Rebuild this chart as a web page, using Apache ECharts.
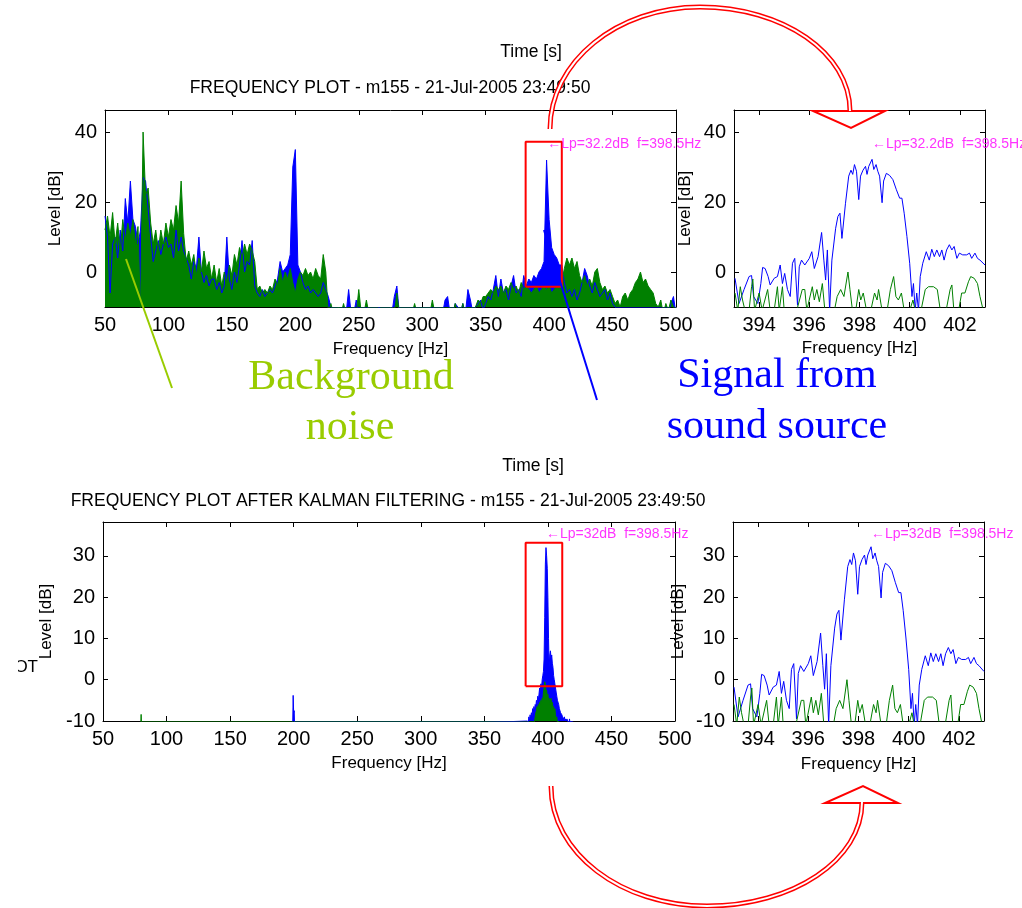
<!DOCTYPE html>
<html>
<head>
<meta charset="utf-8">
<title>Frequency plot before and after Kalman filtering</title>
<script src="https://cdn.jsdelivr.net/npm/echarts@6.0.0/dist/echarts.min.js"></script>
<style>
  html, body { margin: 0; padding: 0; background: #fff; }
  #chart { width: 1022px; height: 908px; }
</style>
</head>
<body>
<div id="chart"></div>
<script>
// overview spectra, one value every 2 Hz from 50 Hz to 500 Hz (level in dB)
const mainStart = 50;
const mainStep = 2;
const mainGreen = [
  12, 16, 10, 17, 8, 14, 6, 15, 9, 14,
  10, 15, 8, 13, -12, 40, 22, 24, 14, 8,
  12, 6, 12, 8, 14, 10, 15, 12, 19, 14,
  26, 11, 3, 6, 2, 5, -1, 4, 0, 6,
  1, 3, -2, 2, -3, 1, -4, 0, -3, 2,
  -1, 5, 2, 7, 4, 8, 5, 8, 6, 3,
  -5, -4, -6, -5, -6, -4, -5, -2, -4, 1,
  -3, 0, -2, 1, -3, -6, -2, 0, -1, 1,
  -1, 0, -2, 1, -1, -2, 5, 0, -12, -9,
  -12, -12, -10, -12, -9, -12, -12, -12, -12, -12,
  -5, -12, -12, -8, -12, -12, -12, -12, -12, -12,
  -12, -12, -12, -12, -12, -6, -12, -12, -12, -12,
  -12, -12, -9, -12, -12, -12, -12, -12, -12, -8,
  -12, -12, -12, -12, -12, -12, -12, -12, -9, -12,
  -12, -9, -12, -12, -12, -12, -10, -8, -9, -7,
  -7, -6, -5, -6, -4, -5, -4, -6, -4, -5,
  -3, -5, -4, -6, -3, -5, -4, -5, -6, -5,
  -4, -6, -5, -4, -5, -4, -6, -5, -4, -5,
  -3, 1, 4, 2, 4, 1, 3, -1, -3, -1,
  -4, -2, -4, 0, 1, -3, -5, -4, -6, -5,
  -7, -9, -8, -10, -7, -6, -8, -6, -5, -3,
  -2, 0, -3, -2, -4, -5, -6, -9, -10, -8,
  -12, -9, -11, -8, -10, -12
];
const mainBlue = [
  16, 10, -6, 8, 10, 4, 12, 6, 21, 14,
  26, 15, 13, 8, 12, 27, 26, 18, 10, 3,
  6, 9, 5, 8, 10, 7, 8, 4, 12, 6,
  10, 6, 4, 2, -2, 3, 1, 10, 0, -3,
  -1, -4, -2, -2, -5, -3, -6, -4, 10, -2,
  -5, 0, -3, 2, 9, 0, 3, 2, 9, -4,
  -6, -7, -5, -7, -6, -5, -6, -4, -2, 3,
  0, 1, 2, 5, 30, 35, 2, 0, -3, -5,
  -4, -6, -5, -6, -7, -6, -3, -5, -7, -10,
  -12, -12, -11, -12, -12, -12, -5, -12, -12, -8,
  -12, -12, -12, -12, -12, -12, -12, -12, -10, -12,
  -12, -12, -12, -12, -7, -4, -12, -12, -12, -12,
  -12, -12, -12, -12, -12, -12, -12, -12, -12, -12,
  -12, -12, -12, -12, -8, -7, -12, -12, -9, -10,
  -12, -9, -12, -5, -8, -12, -10, -9, -8, -11,
  -9, -7, -8, -5, -1, -7, -2, -6, -5, -8,
  -4, -1, -6, -5, -7, -1, -4, -2, -3, -1,
  -2, 0, 1, 3, 32, 15, 7, 5, 4, 2,
  2, -3, -6, -5, -7, -5, -8, -6, -3, 1,
  -1, -4, -6, -3, -5, -7, -6, -5, -8, -6,
  -9, -10, -12, -12, -12, -12, -12, -12, -12, -12,
  -12, -12, -12, -12, -12, -12, -12, -12, -12, -12,
  -12, -12, -12, -9, -7, -12
];

// after Kalman filtering: only the 398.5 Hz source survives (0.5 Hz steps)
const kalBlueStart = 384;
const kalGreenStart = 389;
const kalStep = 0.5;
const kalBlue = [
  -10, -11, -9, -10, -8.5, -9.5, -8, -9,
  -7, -8, -6.5, -7.5, -6, -6.5, -5, -6,
  -4, -5, -3.5, -2, -3, -1, -2, 0,
  1, 2, 5, 15, 28, 32, 30, 27,
  20, 10, 3, 6, 7, 5, 6, 4,
  3, 1, 0, -1, -2, -3, -4, -5,
  -5, -6, -7, -7, -8, -8, -8.5, -9,
  -9, -9.5, -9, -10, -9.5, -10, -9.5, -10,
  -10.5, -11, -9.5, -11, -10, -12, -12, -12,
  -12
];
const kalGreen = [
  -12, -10, -9, -8, -7.5, -6.5, -7, -6,
  -6.5, -5.5, -6, -5, -5.5, -4.5, -5, -3,
  -2, -0.5, -1, -3, -2.5, -4, -3.5, -5,
  -4.5, -6, -5, -4.5, -6, -5.5, -7, -6.5,
  -8, -7, -8.5, -9.5, -9, -10.5, -10, -11,
  -12
];
const kalGreenSpikeFreq = [79.6, 80.0, 80.4];
const kalGreenSpike = [-12, -8.4, -12];
const kalBlueSpikeFreq = [199.2, 199.6, 200.0, 200.4, 200.8];
const kalBlueSpike = [-12, -3.8, -8, -7.5, -12];

// zoomed view 393-403 Hz
const zoomBlueFreq = [
  393.04, 393.2, 393.4, 393.6, 393.7, 393.78, 393.95, 394.07, 394.14, 394.24,
  394.36, 394.44, 394.6, 394.73, 394.84, 394.93, 395.02, 395.13, 395.24, 395.33,
  395.42, 395.53, 395.6, 395.69, 395.82, 396.0, 396.1, 396.2, 396.35, 396.49,
  396.58, 396.65, 396.72, 396.81, 396.9, 397.05, 397.14, 397.22, 397.3, 397.44,
  397.57, 397.66, 397.73, 397.8, 397.88, 397.97, 398.04, 398.14, 398.24, 398.3,
  398.37, 398.5, 398.57, 398.66, 398.73, 398.8, 398.9, 398.96, 399.07, 399.2,
  399.33, 399.47, 399.6, 399.69, 399.78, 399.89, 400.0, 400.09, 400.15, 400.22,
  400.28, 400.35, 400.42, 400.52, 400.66, 400.78, 400.88, 400.98, 401.08, 401.19,
  401.28, 401.37, 401.47, 401.58, 401.68, 401.77, 401.88, 401.98, 402.11, 402.27,
  402.38, 402.47, 402.6, 402.7, 402.8, 403.0
];
const zoomBlue = [
  -1.8, -9, -5, -1.3, -1, -7, -9, -3.3, 1.3, 1,
  -1.3, -3.7, -1.8, -1.3, 2, -3.3, -0.4, -5, -7, 2.5,
  3.9, -9.5, 1.5, 3.4, 2, 3.9, 5.8, 1, 4.4, 11.3,
  3.4, -2.3, 6.3, -11, 3.4, 12.5, 15.9, 16.8, 9.6, 19.5,
  27.4, 29.1, 27.9, 30.7, 28.8, 20.7, 27.4, 29.1, 30.2, 27.9,
  30.2, 32.2, 29.3, 30.7, 28.8, 27.4, 19.8, 26.0, 28.2, 27.6,
  26.4, 23.5, 21.1, 21.1, 16.8, 10.1, 2.5, -7, -3.3, -11,
  -6, -11, -1.3, 2.5, 5.8, 3.4, 6.5, 4.4, 6.3, 4.4,
  6.3, 3.4, 6.3, 7.8, 6.3, 7.3, 3.9, 5.4, 4.9, 4.9,
  5.4, 3.9, 5.4, 3.9, 3.4, 2
];
const zoomGreenFreq = [
  393.04, 393.15, 393.25, 393.34, 393.44, 393.6, 393.7, 393.75, 393.82, 394.0,
  394.12, 394.34, 394.44, 394.6, 394.73, 394.8, 394.93, 395.0, 395.5, 395.72,
  395.82, 395.9, 396.12, 396.2, 396.3, 396.4, 396.52, 396.62, 397.0, 397.11,
  397.25, 397.38, 397.54, 397.62, 397.72, 397.85, 397.97, 398.05, 398.15, 398.28,
  398.45, 398.6, 398.7, 398.76, 398.9, 399.1, 399.23, 399.36, 399.45, 399.55,
  399.67, 399.78, 400.0, 400.13, 400.22, 400.45, 400.62, 400.75, 400.95, 401.1,
  401.22, 401.45, 401.61, 401.68, 401.76, 401.95, 402.07, 402.2, 402.34, 402.43,
  402.57, 402.7, 402.8, 402.93, 403.0
];
const zoomGreen = [
  -6, -11, -4.2, -8, -11, -11, -4.2, -2, -11, -6,
  -11, -5, -11, -11, -4.2, -11, -4.2, -11, -11, -5,
  -5, -11, -4.2, -8, -5, -8.5, -3.3, -11, -11, -7,
  -5, -7, 0, -5, -11, -11, -5, -8, -6, -11,
  -11, -6, -8, -5, -11, -11, -5, -1.3, -7, -8,
  -6, -11, -11, -8, -11, -11, -5, -4.2, -4.2, -5,
  -11, -11, -5, -3.7, -11, -11, -6, -6, -2.8, -1.3,
  -1.8, -3.3, -7, -11, -11
];

// red selection boxes [freq from, freq to], [level from, level to]
const boxTopFreq = [381.5, 410];
const boxTopLevel = [-4.2, 37.2];
const boxBottomFreq = [382.5, 411.3];
const boxBottomLevel = [-1.6, 33.2];

const xTicksMain = [50, 100, 150, 200, 250, 300, 350, 400, 450, 500];
const xTicksZoom = [394, 396, 398, 400, 402];
const yTicksTop = [0, 20, 40];
const yTicksBottom = [-10, 0, 10, 20, 30];

const blue = '#0000ff';
const green = '#008000';
const magenta = '#ff00ff';
const font = 'Arial, "Liberation Sans", sans-serif';

function stepPairs(start, step, values) {
  return values.map((v, i) => [start + i * step, v]);
}
function zipPairs(freqs, values) {
  return freqs.map((f, i) => [f, values[i]]);
}
function boxPath(fr, lv) {
  return [[fr[0], lv[0]], [fr[0], lv[1]], [fr[1], lv[1]], [fr[1], lv[0]], [fr[0], lv[0]]];
}

function axis(gridIndex, position, min, max, ticks, withLabels, name, nameGap) {
  return {
    type: 'value', gridIndex: gridIndex, position: position, min: min, max: max,
    name: withLabels ? name : '', nameLocation: 'middle', nameGap: nameGap,
    nameTextStyle: {color: '#000', fontSize: 17, fontFamily: font},
    axisLine: {show: true, onZero: false, lineStyle: {color: '#000', width: 1}},
    axisTick: {show: true, inside: true, length: 5, customValues: ticks, lineStyle: {color: '#000'}},
    axisLabel: {show: withLabels, customValues: ticks, color: '#000', fontSize: 20, fontFamily: font, margin: 8},
    splitLine: {show: false}
  };
}

const grids = [
  {left: 105, top: 110, width: 571, height: 197},
  {left: 734, top: 110, width: 251, height: 197},
  {left: 103, top: 522, width: 572, height: 199},
  {left: 733, top: 522, width: 251, height: 199}
];
const xRanges = [[50, 500, xTicksMain], [393, 403, xTicksZoom], [50, 500, xTicksMain], [393, 403, xTicksZoom]];
const yRanges = [[-10, 46.3, yTicksTop], [-10, 46.3, yTicksTop], [-10, 38.2, yTicksBottom], [-10, 38.2, yTicksBottom]];
const xNameGaps = [34, 33, 34, 35];
const yNameGaps = [39, 40, 45, 46];

const xAxes = [];
const yAxes = [];
for (let i = 0; i < 4; i++) {
  xAxes.push(axis(i, 'bottom', xRanges[i][0], xRanges[i][1], xRanges[i][2], true, 'Frequency [Hz]', xNameGaps[i]));
  yAxes.push(axis(i, 'left', yRanges[i][0], yRanges[i][1], yRanges[i][2], true, 'Level [dB]', yNameGaps[i]));
}
for (let i = 0; i < 4; i++) {
  xAxes.push(axis(i, 'top', xRanges[i][0], xRanges[i][1], xRanges[i][2], false));
  yAxes.push(axis(i, 'right', yRanges[i][0], yRanges[i][1], yRanges[i][2], false));
}

function filled(idx, color, data) {
  return {
    type: 'line', xAxisIndex: idx, yAxisIndex: idx, data: data,
    showSymbol: false, symbol: 'none', clip: true, z: 2,
    lineStyle: {color: color, width: 1},
    areaStyle: {color: color, opacity: 1, origin: 'start'}
  };
}
function thin(idx, color, data) {
  return {
    type: 'line', xAxisIndex: idx, yAxisIndex: idx, data: data,
    showSymbol: false, symbol: 'none', clip: true, z: 2,
    lineStyle: {color: color, width: 1}
  };
}
function peakLabel(idx, level, text) {
  return {
    type: 'scatter', xAxisIndex: idx, yAxisIndex: idx, symbolSize: 0, z: 6,
    data: [[398.5, level]],
    itemStyle: {color: 'rgba(0,0,0,0)'},
    label: {show: true, position: 'right', distance: 0, formatter: text,
            color: magenta, fontSize: 14, fontFamily: font}
  };
}
function box(idx, fr, lv) {
  return {
    type: 'line', xAxisIndex: idx, yAxisIndex: idx, data: boxPath(fr, lv),
    showSymbol: false, symbol: 'none', z: 5,
    lineStyle: {color: '#ff0000', width: 2}
  };
}

const kalBlueData = zipPairs(kalBlueSpikeFreq, kalBlueSpike).concat(stepPairs(kalBlueStart, kalStep, kalBlue));
const kalGreenData = zipPairs(kalGreenSpikeFreq, kalGreenSpike).concat(stepPairs(kalGreenStart, kalStep, kalGreen));

const series = [
  filled(0, blue, stepPairs(mainStart, mainStep, mainBlue)),
  filled(0, green, stepPairs(mainStart, mainStep, mainGreen)),
  box(0, boxTopFreq, boxTopLevel),
  peakLabel(0, 36.5, '←Lp=32.2dB  f=398.5Hz'),
  thin(1, blue, zipPairs(zoomBlueFreq, zoomBlue)),
  thin(1, green, zipPairs(zoomGreenFreq, zoomGreen)),
  peakLabel(1, 36.5, '←Lp=32.2dB  f=398.5Hz'),
  filled(2, blue, kalBlueData),
  filled(2, green, kalGreenData),
  box(2, boxBottomFreq, boxBottomLevel),
  peakLabel(2, 35.3, '←Lp=32dB  f=398.5Hz'),
  thin(3, blue, zipPairs(zoomBlueFreq, zoomBlue)),
  thin(3, green, zipPairs(zoomGreenFreq, zoomGreen)),
  peakLabel(3, 35.3, '←Lp=32dB  f=398.5Hz')
];

const titleStyle = {color: '#000', fontSize: 17.5, fontWeight: 'normal', fontFamily: font};
const titles = [
  {text: 'Time [s]', left: 531, top: 43, padding: 0, textAlign: 'center', textStyle: titleStyle},
  {text: 'FREQUENCY PLOT - m155 - 21-Jul-2005 23:49:50', left: 390, top: 79, padding: 0, textAlign: 'center', textStyle: titleStyle},
  {text: 'Time [s]', left: 533, top: 457, padding: 0, textAlign: 'center', textStyle: titleStyle},
  {text: 'FREQUENCY PLOT AFTER KALMAN FILTERING - m155 - 21-Jul-2005 23:49:50', left: 388, top: 492, padding: 0, textAlign: 'center', textStyle: titleStyle}
];

// curved "zoom" arrows drawn as a red band with a white core
function arc(q1, q2) {
  const out = [];
  [q1, q2].forEach(function (s) {
    out.push({type: 'bezierCurve', z: 101, shape: s, style: {stroke: '#ff0000', lineWidth: 5, fill: null}});
    out.push({type: 'bezierCurve', z: 102, shape: s, style: {stroke: '#ffffff', lineWidth: 2, fill: null}});
  });
  return out;
}
const serif = '"Liberation Serif", "Times New Roman", serif';
const graphics = [
  {type: 'polygon', z: 100, shape: {points: [[813, 111], [885, 111], [851, 128]]},
   style: {fill: '#fff', stroke: '#ff0000', lineWidth: 2}},
  {type: 'polygon', z: 100, shape: {points: [[825, 803], [898, 803], [863, 786]]},
   style: {fill: '#fff', stroke: '#ff0000', lineWidth: 2}}
]
  .concat(arc({x1: 550, y1: 129, cpx1: 550, cpy1: 62, cpx2: 617, cpy2: 7, x2: 700, y2: 7},
              {x1: 700, y1: 7, cpx1: 783, cpy1: 7, cpx2: 850, cpy2: 53, x2: 850, y2: 111}))
  .concat(arc({x1: 551, y1: 786, cpx1: 551, cpy1: 853, cpx2: 621, cpy2: 906, x2: 707, y2: 906},
              {x1: 707, y1: 906, cpx1: 793, cpy1: 906, cpx2: 862, cpy2: 860, x2: 862, y2: 802}))
  .concat([
    {type: 'line', z: 100, shape: {x1: 126, y1: 259, x2: 172, y2: 388}, style: {stroke: '#99cc00', lineWidth: 2}},
    {type: 'line', z: 100, shape: {x1: 544, y1: 230, x2: 597, y2: 400}, style: {stroke: blue, lineWidth: 2}},
    {type: 'text', z: 100, style: {text: 'Background', x: 351, y: 378, fill: '#99cc00', font: '42px ' + serif, textAlign: 'center', textVerticalAlign: 'middle'}},
    {type: 'text', z: 100, style: {text: 'noise', x: 350, y: 428, fill: '#99cc00', font: '42px ' + serif, textAlign: 'center', textVerticalAlign: 'middle'}},
    {type: 'text', z: 100, style: {text: 'Signal from', x: 777, y: 376, fill: blue, font: '42px ' + serif, textAlign: 'center', textVerticalAlign: 'middle'}},
    {type: 'text', z: 100, style: {text: 'sound source', x: 777, y: 427, fill: blue, font: '42px ' + serif, textAlign: 'center', textVerticalAlign: 'middle'}},
    {type: 'text', z: 100, style: {text: 'OT', x: 38, y: 667, fill: '#000', font: '17px ' + font, textAlign: 'right', textVerticalAlign: 'middle'}},
    {type: 'rect', z: 101, shape: {x: 0, y: 650, width: 18, height: 30}, style: {fill: '#fff'}}
  ]);

const chart = echarts.init(document.getElementById('chart'), null, {renderer: 'canvas'});
chart.setOption({
  backgroundColor: '#fff',
  animation: false,
  title: titles,
  grid: grids,
  xAxis: xAxes,
  yAxis: yAxes,
  series: series,
  graphic: graphics
});
</script>
</body>
</html>
